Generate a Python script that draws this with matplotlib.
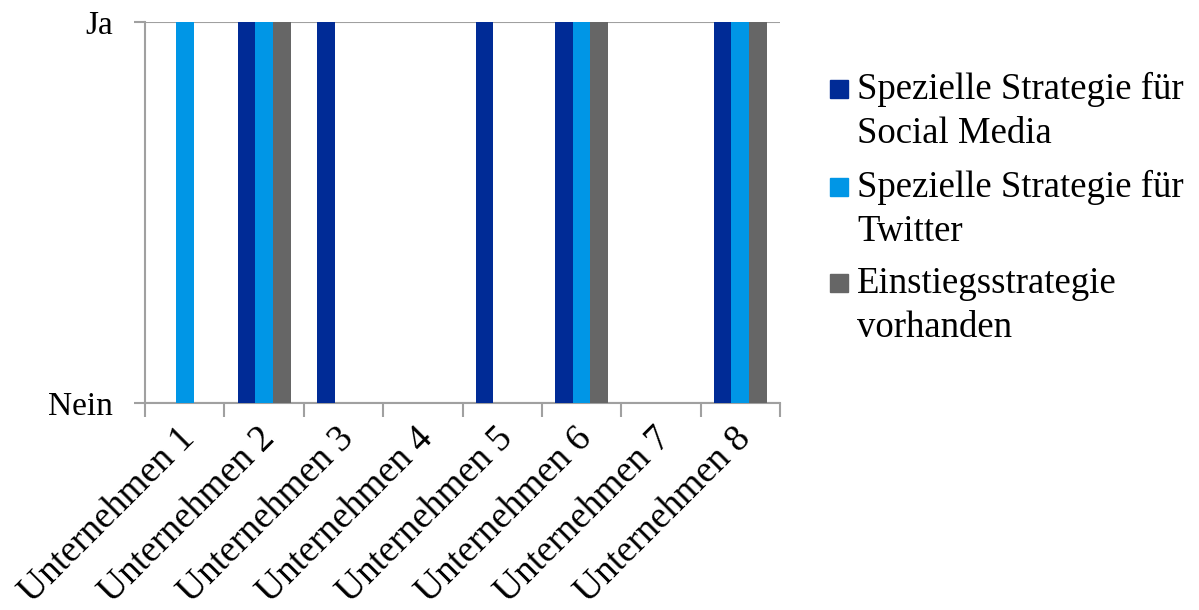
import numpy as np
import matplotlib
matplotlib.use("Agg")
import matplotlib.pyplot as plt
import matplotlib.transforms as mtransforms
from matplotlib.patches import Rectangle
from matplotlib.ticker import FixedLocator

# Ja/Nein-Antworten je Unternehmen (1 = Ja, 0 = Nein)
unternehmen = [f"Unternehmen {i}" for i in range(1, 9)]
social_media = [0, 1, 1, 0, 1, 1, 0, 1]
twitter = [1, 1, 0, 0, 0, 1, 0, 1]
einstieg = [0, 1, 0, 0, 0, 1, 0, 1]

serien = [
    (["Spezielle Strategie für", "Social Media"], social_media, "#002B96"),
    (["Spezielle Strategie für", "Twitter"], twitter, "#0096E6"),
    (["Einstiegsstrategie", "vorhanden"], einstieg, "#666666"),
]

plt.rcParams["font.family"] = ["Liberation Serif", "DejaVu Serif"]
achse_farbe = "#A0A0A0"
W, H = 1199, 610

fig = plt.figure(figsize=(W / 100, H / 100), dpi=100)
ax = fig.add_axes([145 / W, 1 - 403 / H, 635 / W, 381 / H])

x = np.arange(len(unternehmen))
w = 1 / 4.5  # Excel-Lueckenbreite 150 %
for i, (name, werte, farbe) in enumerate(serien):
    ax.bar(x + (i - 1) * w, werte, width=w, color=farbe, zorder=3)

ax.set_xlim(-0.5, len(unternehmen) - 0.5)
ax.set_ylim(0, 1)

# Striche an den Kategoriegrenzen, Beschriftung in der Mitte
ax.xaxis.set_major_locator(FixedLocator(np.arange(len(unternehmen) + 1) - 0.5))
ax.xaxis.set_major_formatter(plt.NullFormatter())
ax.xaxis.set_minor_locator(FixedLocator(x))
ax.set_xticklabels(unternehmen, minor=True, rotation=45, ha="right",
                   rotation_mode="anchor", fontsize=27)
ax.tick_params(axis="x", which="major", length=10, width=1.5, color=achse_farbe)
ax.tick_params(axis="x", which="minor", length=0, pad=13)
verschub = mtransforms.ScaledTranslation(-7 / 100, 0, fig.dpi_scale_trans)
for lbl in ax.get_xticklabels(minor=True):
    lbl.set_transform(lbl.get_transform() + verschub)

ax.set_yticks([0, 1])
ax.set_yticklabels(["Nein", "Ja"], fontsize=24)
ax.tick_params(axis="y", length=8, width=1.5, color=achse_farbe, pad=15)
ax.yaxis.grid(True, color=achse_farbe, linewidth=1.5, zorder=0)

for s in ["top", "right"]:
    ax.spines[s].set_visible(False)
for s in ["left", "bottom"]:
    ax.spines[s].set_color(achse_farbe)
    ax.spines[s].set_linewidth(1.5)

# Legende rechts: Quadrat auf Hoehe der ersten Zeile, zwei Zeilen je Eintrag
basis = [99, 197, 293]
for (zeilen, _, farbe), y0 in zip(serien, basis):
    fig.patches.append(Rectangle((830 / W, 1 - (y0 - 1) / H), 18 / W, 18 / H,
                                 transform=fig.transFigure, color=farbe))
    for k, zeile in enumerate(zeilen):
        fig.text(857 / W, 1 - (y0 + 44 * k) / H, zeile, fontsize=26.5,
                 va="baseline", ha="left")

fig.savefig("out.png", dpi=100)
